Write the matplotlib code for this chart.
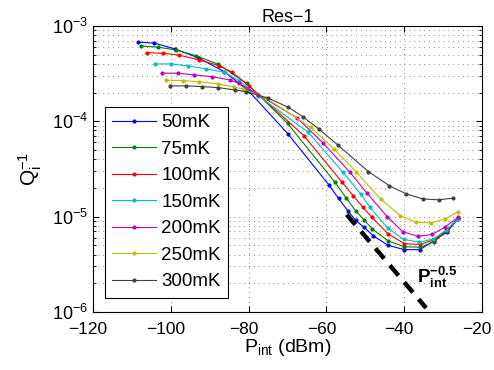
import matplotlib
matplotlib.use('Agg')
import matplotlib.pyplot as plt
import matplotlib.transforms as mtransforms
import numpy as np

plt.rcParams['font.family'] = ['Liberation Sans', 'DejaVu Sans']
plt.rcParams['mathtext.fontset'] = 'custom'
plt.rcParams['mathtext.rm'] = 'Liberation Sans'
plt.rcParams['mathtext.it'] = 'Liberation Sans'
plt.rcParams['mathtext.bf'] = 'Liberation Sans:bold'

# power (dBm) and loss Q_i^-1 for each temperature
p_50 = [-108.5, -104.2, -99.0, -92.8, -86.2, -80.0, -69.8, -59.3, -56.9, -54.5, -52.5,
        -50.3, -48.0, -44.2, -40.0, -36.0, -32.3, -29.0, -26.2]
q_50 = [6.75e-4, 6.6e-4, 5.75e-4, 4.6e-4, 3.3e-4, 2.08e-4, 7.3e-5, 2.13e-5, 1.55e-5, 1.15e-5,
        9.1e-6, 7.7e-6, 6.3e-6, 5.0e-6, 4.5e-6, 4.5e-6, 5.6e-6, 6.9e-6, 9.4e-6]

p_75 = [-107.7, -103.2, -98.7, -93.6, -87.8, -80.5, -70.0, -57.8, -55.0, -52.5, -50.3,
        -48.2, -44.1, -40.0, -35.9, -32.3, -29.1, -26.1]
q_75 = [6.17e-4, 5.98e-4, 5.6e-4, 4.88e-4, 3.96e-4, 2.5e-4, 9.5e-5, 2.29e-5, 1.58e-5, 1.15e-5,
        9.2e-6, 7.4e-6, 5.55e-6, 4.83e-6, 4.77e-6, 5.46e-6, 7.1e-6, 9.6e-6]

p_100 = [-106.2, -102.1, -97.8, -92.7, -87.5, -84.3, -79.9, -65.8, -56.1, -53.1, -50.6,
         -48.3, -44.2, -40.0, -36.0, -32.4, -29.1, -26.1]
q_100 = [5.24e-4, 5.17e-4, 4.93e-4, 4.4e-4, 3.81e-4, 3.27e-4, 2.35e-4, 7.06e-5, 2.32e-5, 1.65e-5,
         1.25e-5, 9.8e-6, 6.6e-6, 5.2e-6, 5.1e-6, 5.7e-6, 7.2e-6, 9.6e-6]

p_150 = [-104.1, -100.0, -95.5, -91.0, -86.2, -82.5, -77.5, -64.7, -55.7, -51.2, -48.8,
         -44.3, -40.2, -36.2, -32.5, -29.3, -26.1]
q_150 = [3.99e-4, 3.99e-4, 3.81e-4, 3.54e-4, 3.27e-4, 2.67e-4, 1.85e-4, 7.67e-5, 2.9e-5, 1.72e-5,
         1.25e-5, 7.6e-6, 5.78e-6, 5.37e-6, 5.83e-6, 7.2e-6, 9.4e-6]

p_200 = [-102.3, -98.2, -94.0, -89.5, -84.8, -82.5, -77.5, -67.6, -61.0, -53.9, -49.6,
         -44.4, -40.4, -36.5, -32.8, -29.5, -26.1]
q_200 = [3.19e-4, 3.19e-4, 3.06e-4, 2.94e-4, 2.71e-4, 2.5e-4, 1.9e-4, 1.09e-4, 5.97e-5, 2.9e-5,
         1.76e-5, 1.0e-5, 6.95e-6, 6.2e-6, 6.5e-6, 7.8e-6, 9.85e-6]

p_250 = [-101.1, -96.9, -92.7, -87.9, -83.7, -81.4, -75.5, -64.0, -58.0, -52.4, -46.1,
         -41.0, -37.0, -33.2, -29.6, -26.3]
q_250 = [2.69e-4, 2.67e-4, 2.59e-4, 2.47e-4, 2.28e-4, 2.18e-4, 1.75e-4, 8.65e-5, 5.08e-5, 2.95e-5,
         1.53e-5, 1.02e-5, 8.7e-6, 8.6e-6, 9.4e-6, 1.12e-5]

p_300 = [-100.2, -96.1, -91.9, -87.8, -83.5, -80.7, -75.0, -69.8, -66.1, -61.8, -57.1,
         -49.2, -43.8, -39.5, -35.2, -31.2, -27.5]
q_300 = [2.35e-4, 2.35e-4, 2.31e-4, 2.25e-4, 2.13e-4, 2.04e-4, 1.75e-4, 1.4e-4, 1.12e-4, 8.2e-5,
         5.64e-5, 2.96e-5, 2.1e-5, 1.73e-5, 1.53e-5, 1.5e-5, 1.56e-5]

labels = ['50mK', '75mK', '100mK', '150mK', '200mK', '250mK', '300mK']
colors = [(0, 0, 1), (0, 0.5, 0), (1, 0, 0), (0, 0.75, 0.75),
          (0.75, 0, 0.75), (0.75, 0.75, 0), (0.25, 0.25, 0.25)]

x_ticks = [-120, -100, -80, -60, -40, -20]
x_ticklabels = ['\u2212120', '\u2212100', '\u221280', '\u221260', '\u221240', '\u221220']

# P^-0.5 guide line end points
fit_p = [-54.8, -34.4]
fit_q = [1.05e-5, 1.1e-6]

fig = plt.figure(figsize=(4.94, 3.70), dpi=100)
ax = fig.add_axes([0.188, 0.157, 0.788, 0.773])

series = [(p_50, q_50), (p_75, q_75), (p_100, q_100), (p_150, q_150),
          (p_200, q_200), (p_250, q_250), (p_300, q_300)]
for (p, q), lab, c in zip(series, labels, colors):
    ax.plot(p, q, '-', color=c, lw=0.8, marker='.', ms=4, label=lab)

ax.plot(fit_p, fit_q, color='k', lw=3.2, linestyle=(0, (3, 2)))

ax.set_yscale('log')
ax.set_xlim(-120, -20)
ax.set_ylim(1e-6, 1e-3)
ax.set_xticks(x_ticks)
ax.set_xticklabels(x_ticklabels)

ax.grid(True, which='major', axis='x', color='0.55', lw=0.7, linestyle=(0, (1, 4)))
ax.grid(True, which='both', axis='y', color='0.55', lw=0.7, linestyle=(0, (1, 4)))
ax.tick_params(which='both', direction='in', top=True, right=True, labelsize=13)
ax.tick_params(axis='x', pad=7, labelsize=12.5)
ax.tick_params(which='major', length=4)
ax.tick_params(which='minor', length=2)

# matlab-style labels sit a little left of the tick
shift = mtransforms.ScaledTranslation(-5 / 100, 0, fig.dpi_scale_trans)
for lbl in ax.get_xticklabels():
    lbl.set_transform(lbl.get_transform() + shift)

ax.set_title('Res\u22121', fontsize=13, pad=3)
ax.set_xlabel(r'P$_{\rm int}$ (dBm)', fontsize=14, labelpad=0)
ax.set_ylabel(r'Q$_{\rm i}^{-1}$', fontsize=15, labelpad=6)

ax.text(-36.7, 2.3e-6, r'$\mathbf{P_{int}^{-0.5}}$', fontsize=13.5, va='center', ha='left')

leg = ax.legend(loc='lower left', bbox_to_anchor=(0.031, 0.049), fontsize=13.5,
                fancybox=False, edgecolor='k', framealpha=1, handlelength=2.3,
                borderaxespad=0, labelspacing=0.5, borderpad=0.4, handletextpad=0.3)
leg.get_frame().set_linewidth(0.8)

fig.savefig('out.png', dpi=100)
